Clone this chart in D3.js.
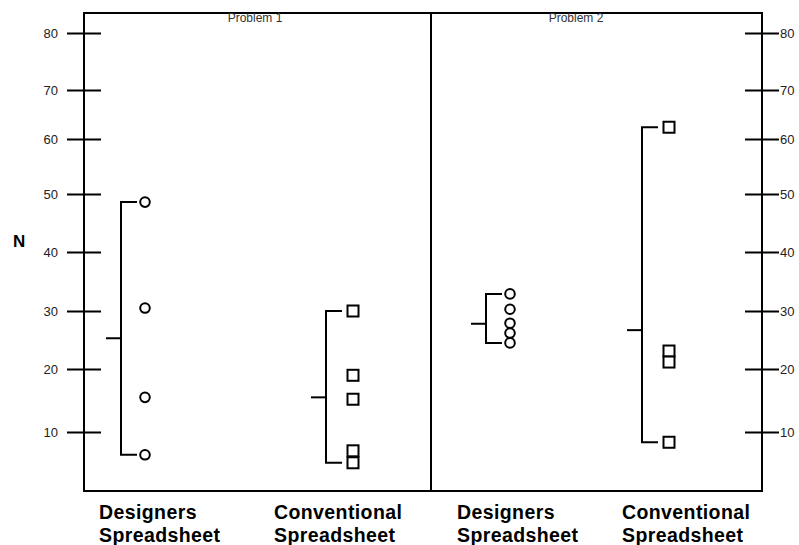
<!DOCTYPE html>
<html lang="en">
<head>
  <meta charset="UTF-8">
  <title>N by spreadsheet type, Problem 1 and 2</title>
  <script src="https://d3js.org/d3.v7.min.js"></script>
  <style>
    body { margin: 0; background: #fff; }
    .tick-label { font: 13px "Liberation Sans", Arial, sans-serif; fill: #222; }
    .group-label { font: bold 19.5px "Liberation Sans", Arial, sans-serif; fill: #000; letter-spacing: 0.4px; }
    .title { font: 12px "Liberation Sans", Arial, sans-serif; fill: #333; }
  </style>
</head>
<body>
  <svg id="chart" width="799" height="545"></svg>
  <script>
    // values
    const problems = ["Problem 1", "Problem 2"];
    const groupNames = ["Designers Spreadsheet", "Conventional Spreadsheet", "Designers Spreadsheet", "Conventional Spreadsheet"];
    const groupKeys = ["p1d", "p1c", "p2d", "p2c"];
    const p1Designers = [48.6, 30.5, 15.5, 6];
    const p1Conventional = [30, 19, 15.2, 6.7, 4.6];
    const p2Designers = [32.9, 30.3, 27.9, 26.2, 24.5];
    const p2Conventional = [62.4, 23.1, 21.2, 8.2];
    const centers = [25.3, 15.5, 27.8, 26.7];
    const tickValues = [10, 20, 30, 40, 50, 60, 70, 80];

    const series = [p1Designers, p1Conventional, p2Designers, p2Conventional];
    const shapes = ["circle", "square", "circle", "square"];

    const svg = d3.select("#chart");
    const frame = { left: 84, right: 762, top: 13, bottom: 491 };

    // hand-drawn axis: tick spacing is not quite even, so piecewise scale
    const y = d3.scaleLinear()
      .domain([0, 10, 20, 30, 40, 50, 60, 70, 80])
      .range([489, 432, 369, 311, 252, 194, 139, 90, 33]);

    const x = d3.scaleOrdinal().domain(groupKeys).range([121, 326, 486, 642]);
    const labelX = d3.scaleOrdinal().domain(groupKeys).range([99, 274, 457, 622]);
    const titleX = d3.scaleOrdinal().domain(problems).range([255, 576]);

    // frame and divider
    svg.append("rect")
      .attr("x", frame.left).attr("y", frame.top)
      .attr("width", frame.right - frame.left)
      .attr("height", frame.bottom - frame.top)
      .attr("fill", "none").attr("stroke", "#000").attr("stroke-width", 2);

    svg.append("line")
      .attr("x1", 431).attr("x2", 431)
      .attr("y1", frame.top).attr("y2", frame.bottom)
      .attr("stroke", "#000").attr("stroke-width", 2);

    // left and right axes
    const left = svg.append("g").attr("transform", `translate(${frame.left},0)`)
      .call(d3.axisLeft(y).tickValues(tickValues).tickSize(0).tickFormat(d3.format("d")));
    const right = svg.append("g").attr("transform", `translate(${frame.right},0)`)
      .call(d3.axisRight(y).tickValues(tickValues).tickSize(0).tickFormat(d3.format("d")));
    [left, right].forEach(g => {
      g.select(".domain").remove();
      g.selectAll(".tick line").remove();
      g.selectAll(".tick").append("line")
        .attr("x1", -17).attr("x2", 17)
        .attr("stroke", "#000").attr("stroke-width", 2);
      g.selectAll(".tick text").attr("class", "tick-label").attr("font-size", null).attr("font-family", null);
    });
    left.selectAll(".tick text").attr("x", -26);
    right.selectAll(".tick text").attr("x", 18);

    svg.append("text")
      .attr("x", 13).attr("y", 241)
      .attr("dy", "0.35em")
      .style("font", "bold 17px 'Liberation Sans', Arial, sans-serif")
      .text("N");

    // problem titles
    svg.selectAll(".title").data(problems).join("text")
      .attr("class", "title")
      .attr("x", d => titleX(d)).attr("y", 22)
      .attr("text-anchor", "middle")
      .text(d => d);

    // brackets: range of values with a stub at the centre
    groupKeys.forEach((k, i) => {
      const vals = series[i];
      const gx = x(k);
      const top = y(d3.max(vals)), bot = y(d3.min(vals));
      const g = svg.append("g");
      g.append("path")
        .attr("d", `M${gx + 16},${top}H${gx}V${bot}H${gx + 16}`)
        .attr("fill", "none").attr("stroke", "#000").attr("stroke-width", 2);
      g.append("line")
        .attr("x1", gx - 15).attr("x2", gx)
        .attr("y1", y(centers[i])).attr("y2", y(centers[i]))
        .attr("stroke", "#000").attr("stroke-width", 2);

      const mx = gx + 26 + (shapes[i] === "square" ? 1 : -2);
      if (shapes[i] === "circle") {
        g.selectAll("circle").data(vals).join("circle")
          .attr("cx", mx).attr("cy", d => y(d)).attr("r", 4.8)
          .attr("fill", "#fff").attr("stroke", "#000").attr("stroke-width", 2);
      } else {
        g.selectAll("rect").data(vals).join("rect")
          .attr("x", mx - 5.5).attr("y", d => y(d) - 5.5)
          .attr("width", 11).attr("height", 11)
          .attr("fill", "#fff").attr("stroke", "#000").attr("stroke-width", 2);
      }

      // two-line category label under the frame
      const words = groupNames[i].split(" ");
      const t = svg.append("text").attr("class", "group-label")
        .attr("x", labelX(k)).attr("y", 519);
      t.selectAll("tspan").data(words).join("tspan")
        .attr("x", labelX(k))
        .attr("dy", (d, j) => j ? 22.5 : 0)
        .text(d => d);
    });
  </script>
</body>
</html>
